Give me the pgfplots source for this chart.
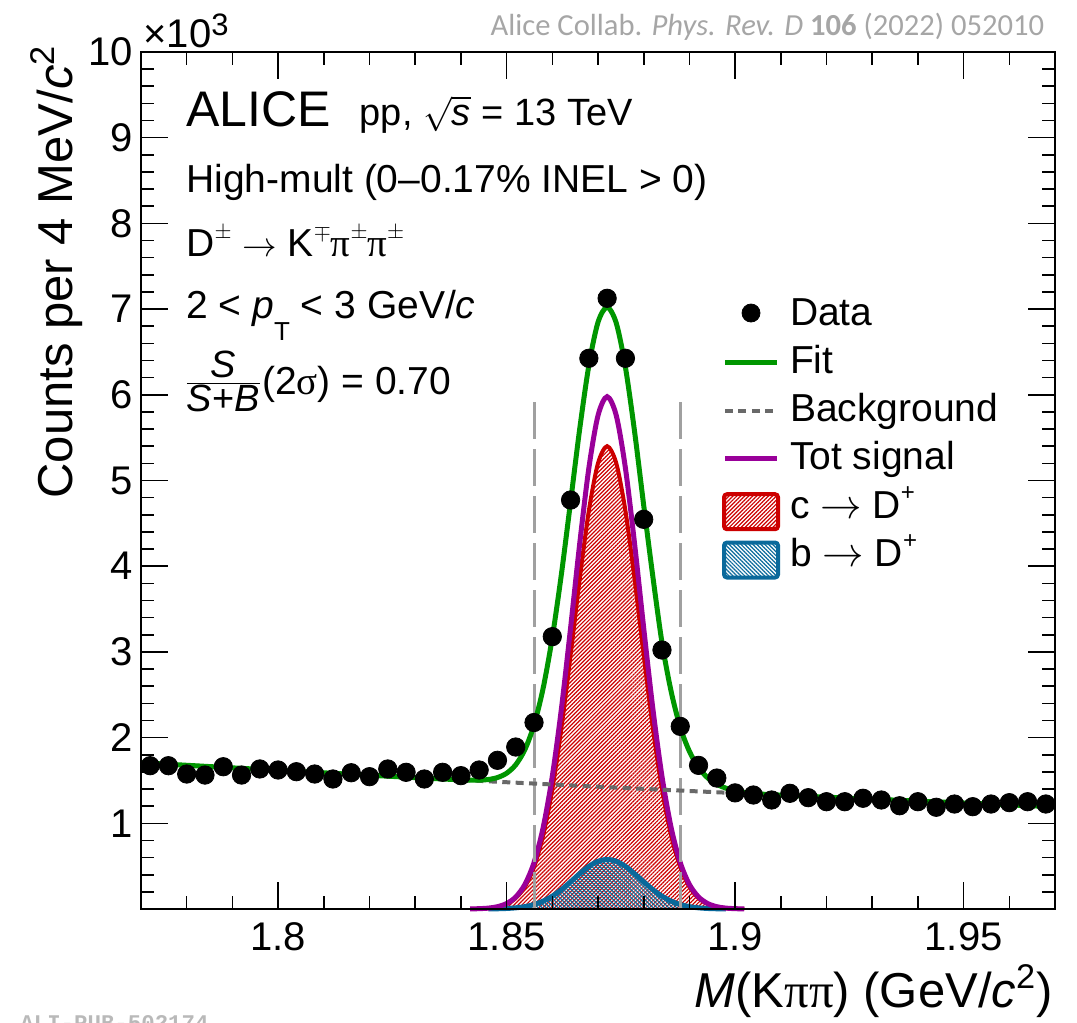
\documentclass[border=0pt]{standalone}
\usepackage{pgfplots}
\pgfplotsset{compat=1.18}
\usetikzlibrary{patterns.meta}
\usepackage{fontspec}
\setmainfont{Liberation Sans}
\newfontfamily\calibrif{Carlito}
\newfontfamily\monof{Liberation Mono}
\newfontfamily\greekf{Liberation Serif}
\definecolor{cgreen}{RGB}{0,150,0}
\definecolor{cpurple}{RGB}{153,0,153}
\definecolor{cred}{RGB}{204,0,0}
\definecolor{cblue}{RGB}{10,105,155}
\definecolor{cdash}{RGB}{160,160,160}
\definecolor{cbg}{RGB}{105,105,105}
\definecolor{ccite}{RGB}{166,166,166}
\definecolor{cwm}{RGB}{185,185,185}
\newcommand{\fs}[1]{\fontsize{#1}{#1}\selectfont}
\newcommand{\sups}[1]{\raisebox{9pt}{\fs{10.5}$#1$}}
\tikzset{redhatch/.style={pattern={Lines[angle=45,distance=1.4pt,line width=0.6pt]}, pattern color=cred},
         bluehatch/.style={pattern={Lines[angle=-45,distance=1.4pt,line width=0.6pt]}, pattern color=cblue}}
\begin{document}
\begin{tikzpicture}
\begin{axis}[
  scale only axis, width=457pt, height=428.5pt,
  xmin=1.77, xmax=1.97, ymin=0, ymax=10000,
  clip=false, axis on top,
  scaled x ticks=false, scaled y ticks=false,
  xtick={1.8,1.85,1.9,1.95}, xticklabels={1.8,1.85,1.9,1.95},
  minor xtick={1.78,1.79,1.81,1.82,1.83,1.84,1.86,1.87,1.88,1.89,1.91,1.92,1.93,1.94,1.96},
  ytick={1000,2000,...,10000}, yticklabels={1,2,3,4,5,6,7,8,9,10},
  minor ytick={200,400,...,9800},
  tick align=inside, xtick pos=both, ytick pos=both,
  xticklabel pos=lower, yticklabel pos=left,
  major tick length=13.5pt, minor tick length=6.5pt,
  tick style={line width=0.8pt, black},
  axis line style={line width=1pt},
  ticklabel style={font=\fs{20}},
  xticklabel style={anchor=north, inner sep=0pt, yshift=-6.5pt},
  yticklabel style={anchor=east, inner sep=0pt, xshift=-4pt},
  legend style={at={(0.6357,0.7141)}, anchor=north west, draw=none, fill=none,
    inner sep=0pt, outer sep=0pt, row sep=3.65pt, column sep=5pt,
    font=\fs{19.5}, cells={anchor=base west},
    nodes={inner sep=0pt, text height=14pt, text depth=6.5pt}},
]
% legend entries
\addlegendimage{legend image code/.code={\fill[black] (13.5pt,6pt) circle (4.5pt);}}
\addlegendentry{Data}
\addlegendimage{legend image code/.code={\draw[cgreen,line width=2.5pt] (0.5pt,5.5pt) -- (26.5pt,5.5pt);}}
\addlegendentry{Fit}
\addlegendimage{legend image code/.code={\draw[cbg,line width=2pt,dash pattern=on 4pt off 2.7pt] (0.5pt,5.5pt) -- (26.5pt,5.5pt);}}
\addlegendentry{Background}
\addlegendimage{legend image code/.code={\draw[cpurple,line width=2.5pt] (0.5pt,5.5pt) -- (26.5pt,5.5pt);}}
\addlegendentry{Tot signal}
\addlegendimage{legend image code/.code={\draw[cred,line width=2pt,rounded corners=1.5pt,redhatch] (0pt,-5.5pt) rectangle (27pt,12pt);}}
\addlegendentry{c $\rightarrow$ D\raisebox{9pt}{\fs{12}+}}
\addlegendimage{legend image code/.code={\draw[cblue,line width=2pt,rounded corners=1.5pt,bluehatch] (0pt,-5.5pt) rectangle (27pt,12pt);}}
\addlegendentry{b $\rightarrow$ D\raisebox{9pt}{\fs{12}+}}

% c -> D+ (filled)
\addplot[forget plot, draw=none, redhatch] coordinates {
(1.842,1.2)(1.844,3.4)(1.846,9.5)(1.848,24.3)(1.850,57.5)(1.852,126.6)(1.854,258.3)(1.856,488.9)(1.858,858.4)(1.860,1398.4)(1.862,2113.1)(1.864,2962.2)(1.866,3852.1)(1.868,4647.3)(1.870,5201.1)(1.872,5400)(1.874,5201.1)(1.876,4647.3)(1.878,3852.1)(1.880,2962.2)(1.882,2113.1)(1.884,1398.4)(1.886,858.4)(1.888,488.9)(1.890,258.3)(1.892,126.6)(1.894,57.5)(1.896,24.3)(1.898,9.5)(1.900,3.4)(1.902,1.2)} \closedcycle;
\addplot[forget plot, cred, line width=2pt, smooth] coordinates {
(1.842,1.2)(1.844,3.4)(1.846,9.5)(1.848,24.3)(1.850,57.5)(1.852,126.6)(1.854,258.3)(1.856,488.9)(1.858,858.4)(1.860,1398.4)(1.862,2113.1)(1.864,2962.2)(1.866,3852.1)(1.868,4647.3)(1.870,5201.1)(1.872,5400)(1.874,5201.1)(1.876,4647.3)(1.878,3852.1)(1.880,2962.2)(1.882,2113.1)(1.884,1398.4)(1.886,858.4)(1.888,488.9)(1.890,258.3)(1.892,126.6)(1.894,57.5)(1.896,24.3)(1.898,9.5)(1.900,3.4)(1.902,1.2)};
% b -> D+ (filled)
\addplot[forget plot, draw=none, bluehatch] coordinates {
(1.846,1.0)(1.848,2.6)(1.850,6.2)(1.852,13.6)(1.854,27.7)(1.856,52.3)(1.858,91.9)(1.860,149.7)(1.862,226.2)(1.864,317.1)(1.866,412.3)(1.868,497.4)(1.870,556.7)(1.872,578)(1.874,556.7)(1.876,497.4)(1.878,412.3)(1.880,317.1)(1.882,226.2)(1.884,149.7)(1.886,91.9)(1.888,52.3)(1.890,27.7)(1.892,13.6)(1.894,6.2)(1.896,2.6)(1.898,1.0)} \closedcycle;
\addplot[forget plot, cblue, line width=2.5pt, smooth] coordinates {
(1.846,1.0)(1.848,2.6)(1.850,6.2)(1.852,13.6)(1.854,27.7)(1.856,52.3)(1.858,91.9)(1.860,149.7)(1.862,226.2)(1.864,317.1)(1.866,412.3)(1.868,497.4)(1.870,556.7)(1.872,578)(1.874,556.7)(1.876,497.4)(1.878,412.3)(1.880,317.1)(1.882,226.2)(1.884,149.7)(1.886,91.9)(1.888,52.3)(1.890,27.7)(1.892,13.6)(1.894,6.2)(1.896,2.6)(1.898,1.0)};
% Tot signal
\addplot[forget plot, cpurple, line width=2.5pt, smooth] coordinates {
(1.842,1.3)(1.844,3.8)(1.846,10.5)(1.848,26.9)(1.850,63.7)(1.852,140.2)(1.854,286.0)(1.856,541.2)(1.858,950.3)(1.860,1548.1)(1.862,2339.3)(1.864,3279.3)(1.866,4264.4)(1.868,5144.7)(1.870,5757.8)(1.872,5978)(1.874,5757.8)(1.876,5144.7)(1.878,4264.4)(1.880,3279.3)(1.882,2339.3)(1.884,1548.1)(1.886,950.3)(1.888,541.2)(1.890,286.0)(1.892,140.2)(1.894,63.7)(1.896,26.9)(1.898,10.5)(1.900,3.8)(1.902,1.3)};
% 2 sigma lines
\addplot[forget plot, cdash, line width=1.3pt, dash pattern=on 18.5pt off 5pt] coordinates {(1.8561,0) (1.8561,6000)};
\addplot[forget plot, cdash, line width=1.3pt, dash pattern=on 18.5pt off 5pt] coordinates {(1.8881,0) (1.8881,6000)};
% Background
\addplot[forget plot, cbg, line width=2pt, dash pattern=on 4pt off 2.7pt] coordinates {
(1.77,1707)(1.78,1676.7)(1.79,1647.0)(1.80,1617.8)(1.81,1589.0)(1.82,1560.8)(1.83,1533.2)(1.84,1505.9)(1.85,1479.3)(1.86,1453.0)(1.87,1427.2)(1.88,1401.9)(1.89,1377.0)(1.90,1352.6)(1.91,1328.6)(1.92,1305.0)(1.93,1281.9)(1.94,1259.2)(1.95,1236.8)(1.96,1214.9)(1.97,1193.3)};
% Fit
\addplot[forget plot, cgreen, line width=2.5pt, smooth] coordinates {
(1.770,1707)(1.780,1677)(1.790,1647)(1.800,1618)(1.810,1589)(1.820,1561)(1.830,1533)(1.840,1507)(1.842,1504)(1.844,1504)(1.846,1511)(1.848,1534)(1.850,1584)(1.852,1683)(1.854,1860)(1.856,2147)(1.858,2577)(1.860,3168)(1.862,3910)(1.864,4752)(1.866,5603)(1.868,6342)(1.870,6846)(1.872,7022)(1.874,6836)(1.876,6322)(1.878,5573)(1.880,4711)(1.882,3880)(1.884,3110)(1.886,2540)(1.888,2120)(1.890,1840)(1.892,1650)(1.894,1530)(1.896,1455)(1.898,1410)(1.900,1378)(1.902,1360)(1.904,1348)(1.906,1340)(1.910,1329)(1.920,1305)(1.930,1282)(1.940,1259)(1.950,1237)(1.960,1215)(1.970,1193)};
% Data
\addplot[forget plot, only marks, mark=*, mark size=4.6pt, black] coordinates {
(1.772,1672)(1.776,1672)(1.780,1575)(1.784,1563)(1.788,1660)(1.792,1563)(1.796,1634)(1.800,1622)(1.804,1602)(1.808,1575)
(1.812,1517)(1.816,1590)(1.820,1544)(1.824,1634)(1.828,1595)(1.832,1517)(1.836,1595)(1.840,1556)(1.844,1622)(1.848,1735)
(1.852,1890)(1.856,2176)(1.860,3178)(1.864,4772)(1.868,6426)(1.872,7126)(1.876,6426)(1.880,4547)(1.884,3022)(1.888,2131)
(1.892,1676)(1.896,1528)(1.900,1355)(1.904,1330)(1.908,1272)(1.912,1350)(1.916,1299)(1.920,1252)(1.924,1252)(1.928,1292)
(1.932,1272)(1.936,1205)(1.940,1252)(1.944,1187)(1.948,1225)(1.952,1194)(1.956,1225)(1.960,1241)(1.964,1252)(1.968,1225)};

% texts
\node[anchor=base west, inner sep=0pt, font=\fs{25}] at (rel axis cs:0.0492,0.9125) {ALICE};
\node[anchor=base east, inner sep=0pt, font=\fs{19}] at (rel axis cs:0.5383,0.9137) {pp, $\sqrt{\mbox{\textit{s}}}$ = 13 TeV};
\node[anchor=base west, inner sep=0pt, font=\fs{19.5}] at (rel axis cs:0.0492,0.8355) {High-mult (0--0.17\% INEL > 0)};
\node[anchor=base west, inner sep=0pt, font=\fs{19.5}] at (rel axis cs:0.0492,0.7614) {D\sups{\pm} {\fs{17}$\rightarrow$} K\sups{\mp}{\greekf π}\sups{\pm}{\greekf π}\sups{\pm}};
\node[anchor=base west, inner sep=0pt, font=\fs{19.5}] at (rel axis cs:0.0492,0.6890) {2 < \textit{p}\raisebox{-11pt}{\fs{13}T} < 3 GeV/\textit{c}};
\node[anchor=base west, inner sep=0pt, font=\fs{19.5}] at (rel axis cs:0.0470,0.6009) {$\frac{\mbox{\fs{19}\textit{S}}}{\mbox{\fs{19}\textit{S}+\textit{B}}}$(2{\greekf σ}) = 0.70};
\node[anchor=base west, inner sep=0pt, font=\fs{20}] at (rel axis cs:0.0022,1.0047) {×10\raisebox{6pt}{\fs{15.5}3}};
\node[rotate=90, anchor=base east, inner sep=0pt, font=\fs{24.5}] at (rel axis cs:-0.0744,1.0082) {Counts per 4 MeV/\textit{c}\textsuperscript{2}};
\node[anchor=base east, inner sep=0pt, font=\fs{24.5}] at (rel axis cs:0.9978,-0.1144) {\textit{M}(K{\greekf ππ}) (GeV/\textit{c}\textsuperscript{2})};
\node[anchor=base east, inner sep=0pt, font=\calibrif\fs{15.3}, text=ccite] at (rel axis cs:0.9885,1.0187) {Alice Collab. \textit{Phys. Rev. D} \textbf{106} (2022) 052010};
\node[anchor=base west, inner sep=0pt, font=\monof\bfseries\fs{11.2}, text=cwm] at (rel axis cs:-0.1324,-0.1412) {ALI-PUB-502174};
\end{axis}
\pgfresetboundingbox
\path[use as bounding box] ([xshift=-70.5pt,yshift=-57pt]current axis.south west) rectangle ([xshift=11pt,yshift=26pt]current axis.north east);
\end{tikzpicture}
\end{document}
